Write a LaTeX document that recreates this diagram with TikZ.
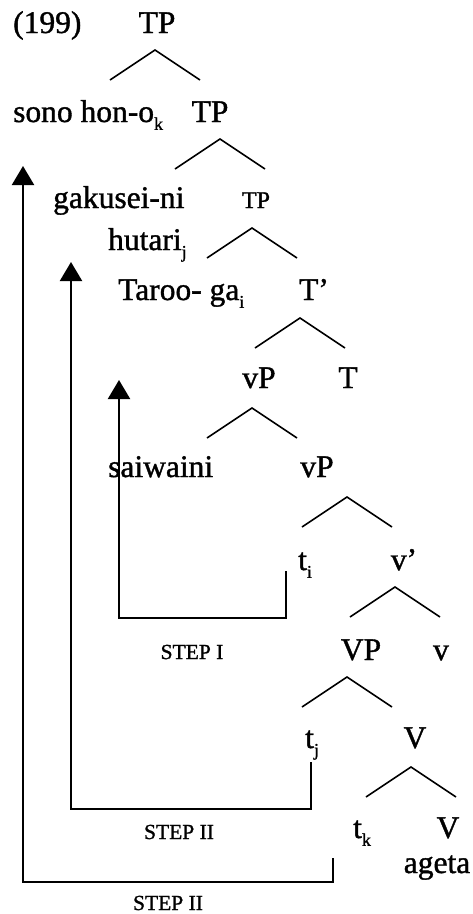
\documentclass[tikz,border=0pt]{standalone}
\usepackage{fontspec}
\setmainfont[FakeBold=1.2]{Liberation Serif}
\usetikzlibrary{arrows.meta}
\newcommand\sbs[1]{\raisebox{-0.25em}{\fontsize{18}{18}\selectfont #1}}
\tikzset{
  lbl/.style={inner sep=0pt, font=\fontsize{31.5}{36}\selectfont},
  small/.style={inner sep=0pt, font=\fontsize{24}{28}\selectfont},
  steplbl/.style={inner sep=0pt, font=\fontsize{21.5}{24}\selectfont},
  branch/.style={line width=1.6pt},
  mvarrow/.style={line width=2.2pt, -{Triangle[width=22pt,length=19pt]}},
}
\newcommand\brnch[3]{\coordinate (#1) at (#2,#3); \draw[branch] (#1) ++(-45,30) -- (#1) -- ++(45,30);}
\begin{document}
\begin{tikzpicture}[x=1pt,y=-1pt]
\useasboundingbox (0,0) rectangle (472,914);
% texts
\node[lbl,anchor=base west] (n199) at (13,33) {(199)};
\node[lbl,anchor=base] (tp0) at (157,33) {TP};
\node[lbl,anchor=base west] (spec1) at (13,122) {sono hon-o\sbs{k}};
\node[lbl,anchor=base] (tp1) at (210,122) {TP};
\node[lbl,anchor=base west] (spec2) at (53,208) {gakusei-ni};
\node[small,anchor=base] (tp2) at (256,208) {TP};
\node[lbl,anchor=base west] (spec3) at (108,250) {hutari\sbs{j}};
\node[lbl,anchor=base west] (spec4) at (118,300) {Taroo- ga\sbs{i}};
\node[lbl,anchor=base] (tbar) at (314,300) {T’};
\node[lbl,anchor=base] (vp1) at (259,388) {vP};
\node[lbl,anchor=base] (t) at (348,388) {T};
\node[lbl,anchor=base west] (adv) at (108,477) {saiwaini};
\node[lbl,anchor=base] (vp2) at (317,477) {vP};
\node[lbl,anchor=base west] (ti) at (298,570) {t\sbs{i}};
\node[lbl,anchor=base] (vbar) at (404,570) {v’};
\node[steplbl] (stepI) at (192,652) {STEP I};
\node[lbl,anchor=base] (VP) at (361,660) {VP};
\node[lbl,anchor=base] (v) at (441,660) {v};
\node[lbl,anchor=base west] (tj) at (305,748) {t\sbs{j}};
\node[lbl,anchor=base] (V1) at (415,748) {V};
\node[steplbl] (stepIIa) at (179,832) {STEP II};
\node[lbl,anchor=base west] (tk) at (353,838) {t\sbs{k}};
\node[lbl,anchor=base] (V2) at (448,838) {V};
\node[lbl,anchor=base] (ageta) at (437,873) {ageta};
\node[steplbl] (stepIIb) at (168,903) {STEP II};
% branches
\brnch{b0}{155}{50}
\brnch{b1}{220}{139}
\brnch{b2}{252}{228}
\brnch{b3}{300}{318}
\brnch{b4}{252}{408}
\brnch{b5}{347}{497}
\brnch{b6}{395}{587}
\brnch{b7}{347}{677}
\brnch{b8}{411}{767}
% movement arrows
\coordinate (o1) at (333,858); \coordinate (o2) at (333,882);
\coordinate (o3) at (23,882); \coordinate (o4) at (23,166);
\draw[mvarrow] (o1) -- (o2) -- (o3) -- (o4);
\coordinate (m1) at (311,762); \coordinate (m2) at (311,809);
\coordinate (m3) at (71,809); \coordinate (m4) at (71,262);
\draw[mvarrow] (m1) -- (m2) -- (m3) -- (m4);
\coordinate (i1) at (286,571); \coordinate (i2) at (286,618);
\coordinate (i3) at (119,618); \coordinate (i4) at (119,380);
\draw[mvarrow] (i1) -- (i2) -- (i3) -- (i4);
\end{tikzpicture}
\end{document}
